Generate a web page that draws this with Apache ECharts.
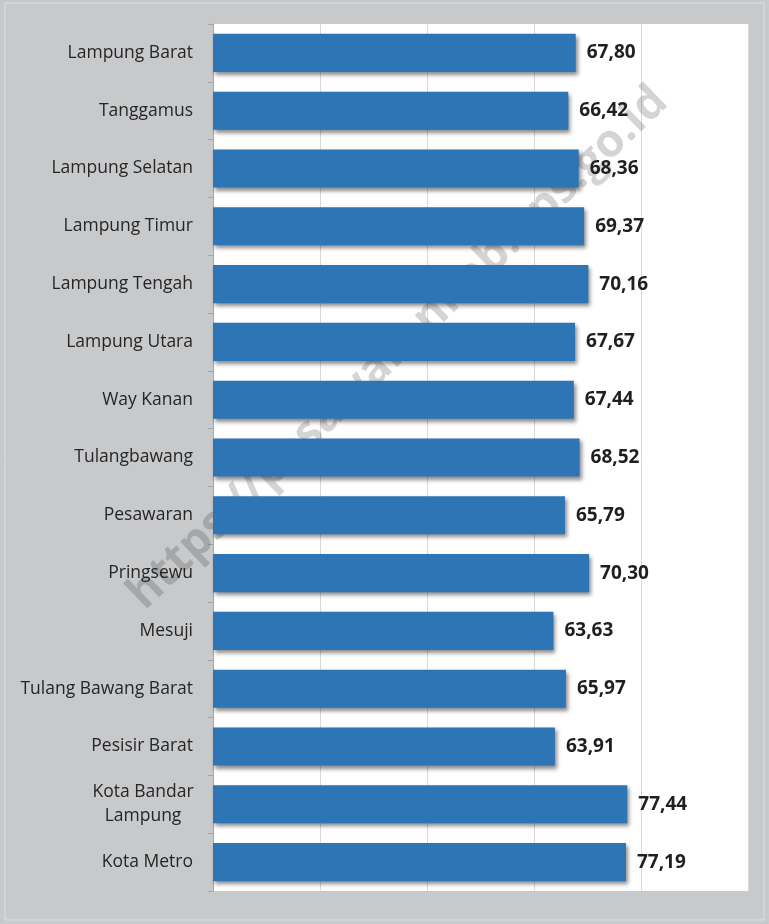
<!DOCTYPE html>
<html>
<head>
<meta charset="utf-8">
<script src="https://cdn.jsdelivr.net/npm/echarts@6/dist/echarts.min.js"></script>
<style>
html,body{margin:0;padding:0;background:#c8c9cb;}
#c{width:769px;height:924px;}
</style>
</head>
<body>
<div id="c"></div>
<script>
const categories = ["Lampung Barat","Tanggamus","Lampung Selatan","Lampung Timur","Lampung Tengah","Lampung Utara","Way Kanan","Tulangbawang","Pesawaran","Pringsewu","Mesuji","Tulang Bawang Barat","Pesisir Barat","Kota Bandar\nLampung","Kota Metro"];
const values = [67.80,66.42,68.36,69.37,70.16,67.67,67.44,68.52,65.79,70.30,63.63,65.97,63.91,77.44,77.19];
const axisMin = 0, axisMax = 100, axisStep = 20;
const watermark = "https://pesawarankab.bps.go.id";

const chart = echarts.init(document.getElementById('c'));
chart.setOption({
  backgroundColor: '#c8c9cb',
  animation: false,
  grid: {left: 213, right: 21, top: 24, bottom: 33, show: true, backgroundColor: '#ffffff', borderWidth: 0, z: 0},
  graphic: [
    {type: 'rect', z: -1, shape: {x: 5, y: 3, width: 759, height: 917}, style: {fill: 'none', stroke: '#dedfe0', lineWidth: 1}},
    {type: 'text', z: 1, x: 398, y: 348, rotation: 44 * Math.PI / 180,
     style: {text: watermark, font: 'bold 46px "Open Sans", sans-serif', fill: 'rgba(0,0,0,0.17)', align: 'center', verticalAlign: 'middle'}}
  ],
  xAxis: {
    type: 'value', min: axisMin, max: axisMax, interval: axisStep,
    axisLabel: {show: false}, axisLine: {show: false}, axisTick: {show: false},
    splitLine: {show: true, lineStyle: {color: '#d9d9d9', width: 1}}
  },
  yAxis: {
    type: 'category', inverse: true, data: categories,
    axisLine: {show: true, lineStyle: {color: '#a6a6a6', width: 1}},
    axisTick: {show: true, length: 5, lineStyle: {color: '#a6a6a6'}},
    axisLabel: {
      margin: 20, color: '#262626', fontFamily: '"Open Sans", sans-serif', fontSize: 17.5, lineHeight: 24,
      formatter: function (v) {
        if (v.indexOf('\n') >= 0) {
          return v.split('\n').map(s => '{c|' + s + '}').join('\n');
        }
        return v;
      },
      rich: {c: {width: 100, align: 'center', color: '#262626', fontFamily: '"Open Sans", sans-serif', fontSize: 17.5, lineHeight: 24}}
    }
  },
  series: [{
    type: 'bar', data: values, z: 2,
    barCategoryGap: '34%',
    itemStyle: {color: '#2e75b6', shadowColor: 'rgba(0,0,0,0.45)', shadowBlur: 4, shadowOffsetX: 2, shadowOffsetY: 3},
    label: {
      show: true, position: 'right', distance: 11,
      color: '#1f1f1f', fontWeight: 'bold', fontFamily: '"Open Sans", sans-serif', fontSize: 19,
      formatter: p => p.value.toFixed(2).replace('.', ',')
    }
  }]
});
</script>
</body>
</html>
